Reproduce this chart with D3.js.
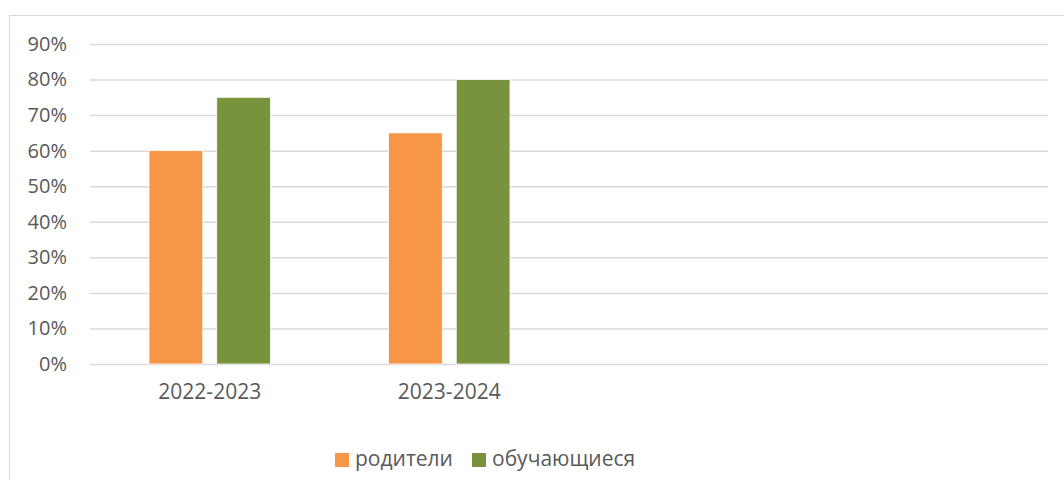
<!DOCTYPE html>
<html><head><meta charset="utf-8">
<script src="https://cdn.jsdelivr.net/npm/d3@7"></script>
<style>html,body{margin:0;padding:0;background:#fff;}svg{display:block;}</style>
</head><body>
<svg id="c" width="1064" height="480"></svg>
<script>
const categories = ["2022-2023", "2023-2024", "", ""];
const seriesNames = ["родители", "обучающиеся"];
const parents = [0.60, 0.65, null, null];
const students = [0.75, 0.80, null, null];
const colors = ["#F79646", "#77933C"];
const yTicks = [0, 0.1, 0.2, 0.3, 0.4, 0.5, 0.6, 0.7, 0.8, 0.9];

const series = [parents, students];
const svg = d3.select("#c");
const font = "'Open Sans', 'Segoe UI', sans-serif";
const textColor = "#595959";

// chart border
svg.append("rect").attr("x", 9.5).attr("y", 15.5).attr("width", 1100).attr("height", 600)
  .attr("fill", "none").attr("stroke", "#D9D9D9").attr("stroke-width", 1);

const x0 = d3.scaleBand().domain(d3.range(categories.length)).range([90, 1048]).padding(0);
const bw = x0.bandwidth();
const x1 = d3.scaleBand().domain(d3.range(series.length))
  .range([bw * 0.2465, bw * 0.7535]).paddingInner(0.207).paddingOuter(0);
const y = d3.scaleLinear().domain([0, 0.9]).range([364, 44]);

// gridlines
const yAxis = d3.axisLeft(y).tickValues(yTicks).tickFormat(d3.format(".0%"))
  .tickSize(-(1048 - 90)).tickPadding(23);
const gy = svg.append("g").attr("transform", "translate(90,0)").call(yAxis);
gy.select(".domain").remove();
gy.selectAll(".tick line").attr("stroke", "#D9D9D9").attr("stroke-width", 1.5);
gy.selectAll(".tick text").attr("fill", textColor).style("font-family", font).style("font-size", "20px");

// bars
const groups = svg.append("g").selectAll("g").data(series).join("g")
  .attr("fill", (d, i) => colors[i]);
groups.each(function(vals, si) {
  d3.select(this).selectAll("rect")
    .data(vals.map((v, ci) => ({v, ci})).filter(d => d.v != null))
    .join("rect")
    .attr("x", d => x0(d.ci) + x1(si))
    .attr("width", x1.bandwidth())
    .attr("y", d => y(d.v))
    .attr("height", d => y(0) - y(d.v))
    .attr("stroke", "#fff").attr("stroke-width", 0.75);
});

// x axis labels
const xAxis = d3.axisBottom(x0).tickFormat(i => categories[i]).tickSize(0).tickPadding(20);
const gx = svg.append("g").attr("transform", "translate(0,364)").call(xAxis);
gx.select(".domain").remove();
gx.selectAll(".tick text").attr("fill", textColor).style("font-family", font).style("font-size", "21px");

// legend
const legendX = [335, 472];
const lg = svg.append("g").selectAll("g").data(seriesNames).join("g")
  .attr("transform", (d, i) => `translate(${legendX[i]},453)`);
lg.append("rect").attr("width", 14).attr("height", 14).attr("fill", (d, i) => colors[i]);
lg.append("text").attr("x", 20).attr("y", 13).text(d => d)
  .attr("fill", textColor).style("font-family", font).style("font-size", "21px");
</script>
</body></html>
